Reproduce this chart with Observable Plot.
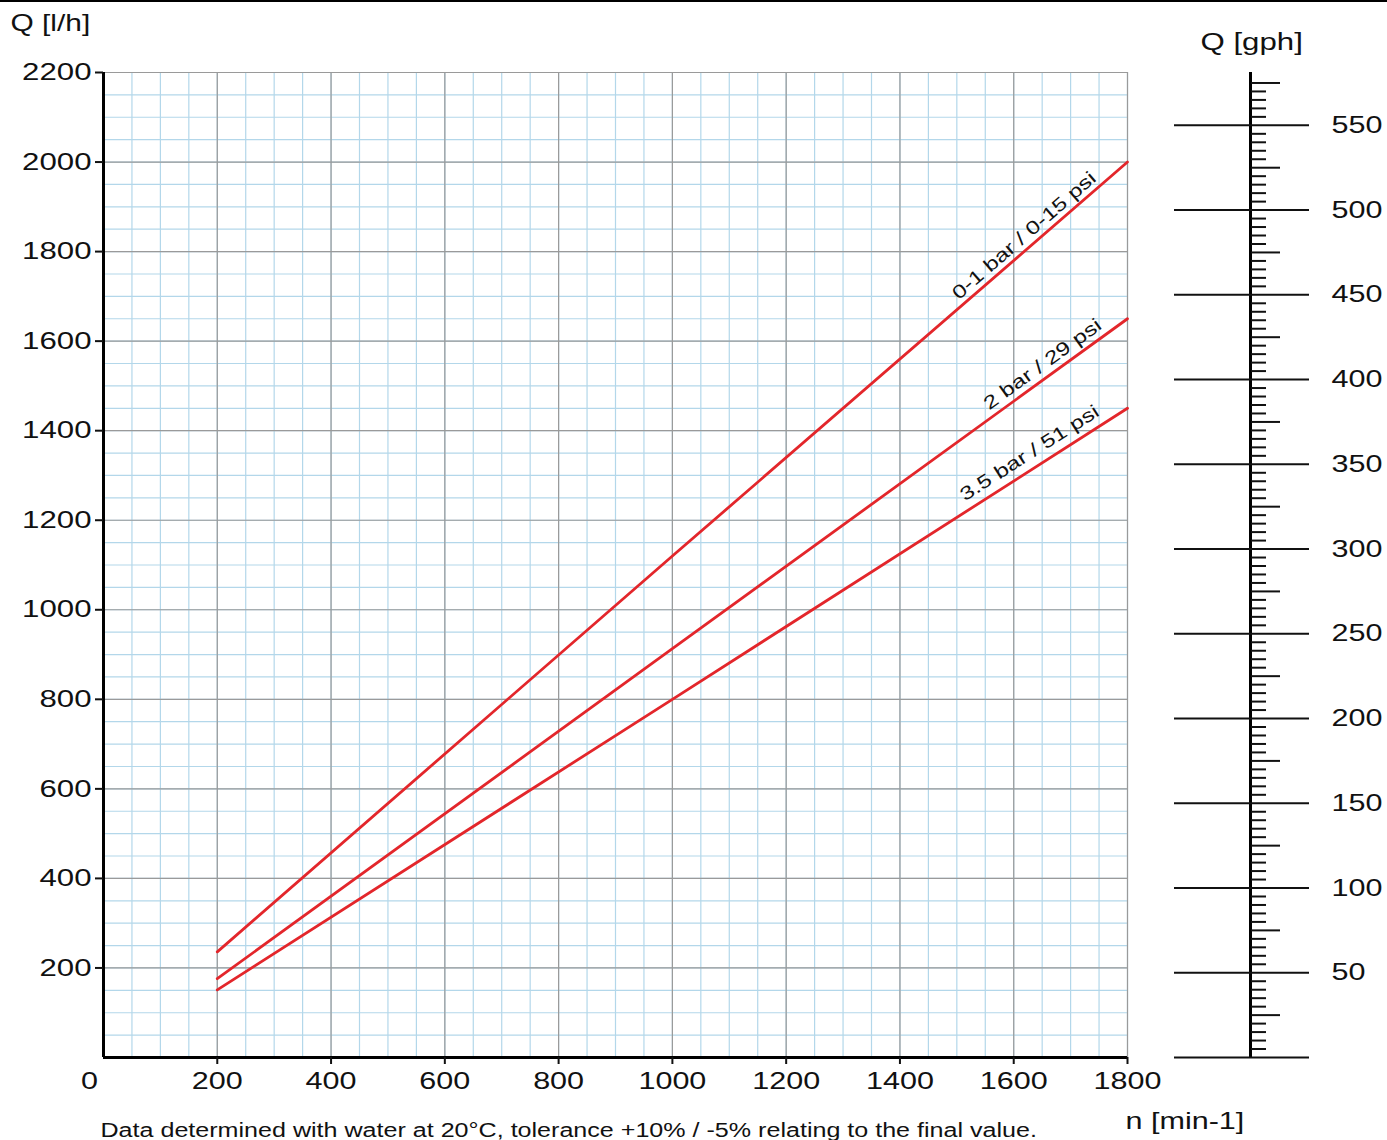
<!DOCTYPE html>
<html><head><meta charset="utf-8">
<script src="https://cdn.jsdelivr.net/npm/d3@7"></script>
<script src="https://cdn.jsdelivr.net/npm/@observablehq/plot@0.6"></script>
<style>
html,body{margin:0;padding:0;background:#fff;}
#chart{position:relative;width:1387px;height:1140px;}
#topline{position:absolute;left:0;top:0;width:1387px;height:2px;background:#000;}
svg{display:block}
</style></head><body>
<div id="chart"><div id="topline"></div></div>
<script>
// ---- data ----
const rpm = [200, 1000, 1800];                 // n [min-1]
const flow01bar = [236, 1120, 2000];           // Q [l/h]  0-1 bar / 0-15 psi
const flow2bar  = [176, 913, 1650];            // Q [l/h]  2 bar / 29 psi
const flow35bar = [151, 800, 1450];            // Q [l/h]  3.5 bar / 51 psi
const seriesNames = ["0-1 bar / 0-15 psi", "2 bar / 29 psi", "3.5 bar / 51 psi"];
const labelRpm = [1632, 1664, 1642];
const labelGap = [12, 13, 15];
const xTicks = [200, 400, 600, 800, 1000, 1200, 1400, 1600, 1800];
const yTicks = [200, 400, 600, 800, 1000, 1200, 1400, 1600, 1800, 2000, 2200];
const gphTicks = [0, 50, 100, 150, 200, 250, 300, 350, 400, 450, 500, 550];
const texts = {
  yTitle: "Q [l/h]",
  gphTitle: "Q [gph]",
  xTitle: "n [min-1]",
  caption: "Data determined with water at 20°C, tolerance +10% / -5% relating to the final value."
};

const GPH = 3.785411784;
const W = 1387, H = 1140, mL = 103, mR = 260, mT = 72, mB = 83;
const innerW = W - mL - mR, innerH = H - mT - mB;
const xMax = 1800, yMax = 2200;

const flows = [flow01bar, flow2bar, flow35bar];
const rows = [];
flows.forEach((f, i) => f.forEach((q, j) => rows.push({series: seriesNames[i], rpm: rpm[j], flow: q})));

function interp(xs, ys, x) {
  for (let j = 0; j < xs.length - 1; j++) {
    if (x <= xs[j + 1] || j === xs.length - 2) {
      const t = (x - xs[j]) / (xs[j + 1] - xs[j]);
      return ys[j] + t * (ys[j + 1] - ys[j]);
    }
  }
}
const labelMarks = seriesNames.map((s, i) => {
  const f = flows[i];
  const slope = (f[f.length - 1] - f[0]) / (rpm[rpm.length - 1] - rpm[0]);
  const a = Math.atan(slope * (innerH / yMax) / (innerW / xMax));
  const row = {series: s, x: labelRpm[i], y: interp(rpm, f, labelRpm[i])};
  return Plot.text([row], {
    x: "x", y: "y", text: "series",
    rotate: -a * 180 / Math.PI,
    dx: -Math.sin(a) * labelGap[i], dy: -Math.cos(a) * labelGap[i],
    textAnchor: "middle", lineAnchor: "middle", fontSize: 18.7, fill: "#111"
  });
});

const xMinor = d3.range(0, xMax + 1, 50);
const yMinor = d3.range(0, yMax + 1, 50);
const xMajor = d3.range(0, xMax + 1, 200);
const yMajor = d3.range(0, yMax + 1, 200);
const gphMid = d3.range(25, 600, 50);
const gphSmall = d3.range(5, 580, 5).filter(g => g % 25 !== 0);

const blue = "#b3d7ea", gray = "#9a9a9a", red = "#e3262b";
const plain = d => String(d);

const plot = Plot.plot({
  width: W, height: H,
  marginLeft: mL, marginRight: mR, marginTop: mT, marginBottom: mB,
  x: {domain: [0, xMax]},
  y: {domain: [0, yMax]},
  style: {fontFamily: "'Liberation Sans', Arial, sans-serif", fontSize: "22px", background: "transparent", color: "#111"},
  marks: [
    Plot.gridX(xMinor, {stroke: blue, strokeOpacity: 1, strokeWidth: 1.2}),
    Plot.gridY(yMinor, {stroke: blue, strokeOpacity: 1, strokeWidth: 1.2}),
    Plot.gridX(xMajor, {stroke: gray, strokeOpacity: 1, strokeWidth: 1.2}),
    Plot.gridY(yMajor, {stroke: gray, strokeOpacity: 1, strokeWidth: 1.2}),
    Plot.line(rows, {x: "rpm", y: "flow", z: "series", stroke: red, strokeWidth: 2.8}),
    ...labelMarks,
    Plot.ruleX([0], {stroke: "#000", strokeWidth: 3}),
    Plot.ruleY([0], {stroke: "#000", strokeWidth: 3}),
    Plot.axisY(yTicks, {anchor: "left", tickSize: 8, tickPadding: 4, fontSize: 24, label: null, strokeWidth: 2, tickFormat: plain}),
    Plot.axisX(xTicks, {anchor: "bottom", tickSize: 7, tickPadding: 8, fontSize: 23.5, label: null, strokeWidth: 2, tickFormat: plain}),
    Plot.axisX([0], {anchor: "bottom", tickSize: 0, tickPadding: 15, dx: -14, fontSize: 23.5, label: null, tickFormat: plain}),
    // gph scale (same physical scale, converted)
    Plot.ruleX([xMax], {dx: 123, stroke: "#000", strokeWidth: 3}),
    Plot.axisY(gphTicks.map(g => g * GPH), {anchor: "right", dx: 46, tickSize: 135, tickPadding: 23, fontSize: 23.5, label: null, strokeWidth: 2,
      tickFormat: d => { const g = Math.round(d / GPH); return g === 0 ? "" : String(g); }}),
    Plot.axisY(gphMid.map(g => g * GPH), {anchor: "right", dx: 123, tickSize: 29, label: null, strokeWidth: 2, tickFormat: () => ""}),
    Plot.axisY(gphSmall.map(g => g * GPH), {anchor: "right", dx: 123, tickSize: 15, label: null, strokeWidth: 2, tickFormat: () => ""}),
    // titles
    Plot.text([texts.yTitle], {frameAnchor: "top-left", dx: -93, dy: -58, textAnchor: "start", fontSize: 23}),
    Plot.text([texts.gphTitle], {frameAnchor: "top-right", dx: 73, dy: -40, textAnchor: "start", fontSize: 24}),
    Plot.text([texts.xTitle], {frameAnchor: "bottom-right", dx: -2, dy: 71, textAnchor: "start", fontSize: 23.5}),
    Plot.text([texts.caption], {frameAnchor: "bottom-left", dx: -3, dy: 79, textAnchor: "start", fontSize: 19.3})
  ]
});

// horizontally widen the glyphs like the reference lettering
const S = 1.3;
plot.querySelectorAll("text").forEach(t => {
  const x = parseFloat(t.getAttribute("x") || 0);
  const tr = t.getAttribute("transform") || "";
  t.setAttribute("transform", `${tr} translate(${x},0) scale(${S},1) translate(${-x},0)`);
});
document.getElementById("chart").appendChild(plot);
</script>
</body></html>
